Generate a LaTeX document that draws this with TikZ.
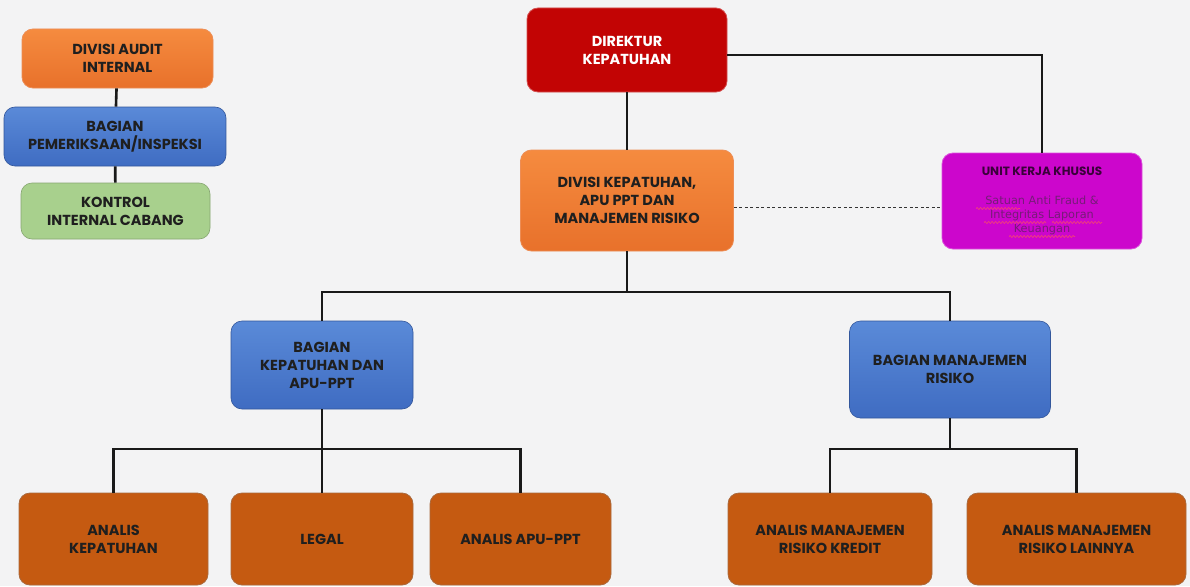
\documentclass[tikz,border=0pt]{standalone}
\usepackage{fontspec}
\setmainfont{Poppins}
\newfontfamily\notefont{DejaVu Sans}
\usetikzlibrary{calc,decorations.pathmorphing}
\begin{document}
\begin{tikzpicture}[x=1pt,y=-1pt,
  box/.style={rounded corners=11pt, align=center, font=\bfseries\fontsize{14.5}{18}\selectfont,
    text=black!88, inner sep=2pt},
  orangebox/.style={box, top color=orange1, bottom color=orange2, draw=orange2!80!white, line width=0.8pt},
  bluebox/.style={box, top color=blue1, bottom color=blue2, draw=blue2!80!black, line width=0.6pt},
  greenbox/.style={box, fill=green1, draw=green1!80!black, line width=0.6pt},
  redbox/.style={box, fill=red1, draw=red1!70!white, line width=0.8pt, text=white},
  magbox/.style={box, fill=mag1, draw=mag1!70!white, line width=0.8pt},
  brownbox/.style={box, fill=brown1, draw=brown1!60!gray, line width=0.8pt},
  link/.style={line width=2.6pt, draw=black!90},
  dotlink/.style={line width=0.8pt, draw=black!80, dash pattern=on 3pt off 2.5pt},
  spellmark/.style={draw=spellred, line width=0.7pt, decorate,
    decoration={snake, amplitude=1pt, segment length=3.5pt}}
]
\definecolor{orange1}{HTML}{F58B3F}
\definecolor{orange2}{HTML}{E8712B}
\definecolor{blue1}{HTML}{5A8AD8}
\definecolor{blue2}{HTML}{3F6CC2}
\definecolor{green1}{HTML}{A8D08D}
\definecolor{red1}{HTML}{C20404}
\definecolor{mag1}{HTML}{CC06CC}
\definecolor{brown1}{HTML}{C55A11}
\definecolor{unitink}{HTML}{761C78}
\definecolor{spellred}{HTML}{F0407A}
\definecolor{bg}{HTML}{F3F3F4}

% canvas
\fill[bg] (0,0) rectangle (1190,586);
\useasboundingbox (0,0) rectangle (1190,586);

% audit branch (left)
\node[orangebox, minimum width=191pt, minimum height=59pt] (audit) at (117.5,58.5) {DIVISI AUDIT\\INTERNAL};
\node[bluebox, minimum width=222pt, minimum height=59pt] (periksa) at (115,136.5) {BAGIAN\\PEMERIKSAAN/INSPEKSI};
\node[greenbox, minimum width=189pt, minimum height=56pt] (kontrol) at (115.5,211) {KONTROL\\INTERNAL CABANG};

% top of the structure
\node[redbox, minimum width=200pt, minimum height=84pt] (dir) at (627,50) {DIREKTUR\\KEPATUHAN};
\node[orangebox, minimum width=213pt, minimum height=101pt] (div) at (627,200.5) {DIVISI KEPATUHAN,\\APU PPT DAN\\MANAJEMEN RISIKO};
\node[magbox, minimum width=200pt, minimum height=96pt] (unit) at (1042,201) {};
\node[font=\bfseries\fontsize{12}{14}\selectfont, text=black!72!mag1] (unittitle) at (1042,171) {UNIT KERJA KHUSUS};
\node[align=center, font=\notefont\fontsize{11.3}{14}\selectfont, text=unitink] (unittext) at (1042,215)
  {Satuan Anti Fraud \&\\Integritas Laporan\\Keuangan};

% spell-check squiggles under the note
\draw[spellmark] (976,208.5) -- (1020,208.5);
\draw[spellmark] (984,222.5) -- (1046,222.5);
\draw[spellmark] (1052,222.5) -- (1102,222.5);
\draw[spellmark] (1009,236.5) -- (1075,236.5);

% sections
\node[bluebox, minimum width=182pt, minimum height=88pt] (bkep) at (322,365) {BAGIAN\\KEPATUHAN DAN\\APU-PPT};
\node[bluebox, minimum width=201pt, minimum height=97pt] (bmr) at (950,369.5) {BAGIAN MANAJEMEN\\RISIKO};

% analysts
\node[brownbox, minimum width=189pt, minimum height=92pt] (ak) at (113.5,539) {ANALIS\\KEPATUHAN};
\node[brownbox, minimum width=182pt, minimum height=92pt] (legal) at (322,539) {LEGAL};
\node[brownbox, minimum width=181pt, minimum height=92pt] (aapu) at (520.5,539) {ANALIS APU-PPT};
\node[brownbox, minimum width=204pt, minimum height=92pt] (amrk) at (830,539) {ANALIS MANAJEMEN\\RISIKO KREDIT};
\node[brownbox, minimum width=219pt, minimum height=92pt] (amrl) at (1076.5,539) {ANALIS MANAJEMEN\\RISIKO LAINNYA};

% bus points
\coordinate (busdiv) at (627,292);
\coordinate (buskep) at (322,449);
\coordinate (busmr) at (950,449);

% connectors
\draw[link] (audit) -- (periksa);
\draw[link] (periksa) -- (kontrol);
\draw[link] (dir) -- (div);
\draw[link] ([yshift=-5pt]dir.east) -| (unit.north);
\draw[dotlink] ([yshift=-6.5pt]div.east) -- ([yshift=-6.5pt]div.east -| unit.west);
\draw[link] (div.south) -- (busdiv);
\draw[link] (busdiv) -| (bkep.north);
\draw[link] (busdiv) -| (bmr.north);
\draw[link] (bkep.south) -- (buskep);
\draw[link] (buskep) -| (ak.north);
\draw[link] (buskep) -- (legal.north);
\draw[link] (buskep) -| (aapu.north);
\draw[link] (bmr.south) -- (busmr);
\draw[link] (busmr) -| (amrk.north);
\draw[link] (busmr) -| (amrl.north);
\end{tikzpicture}
\end{document}
